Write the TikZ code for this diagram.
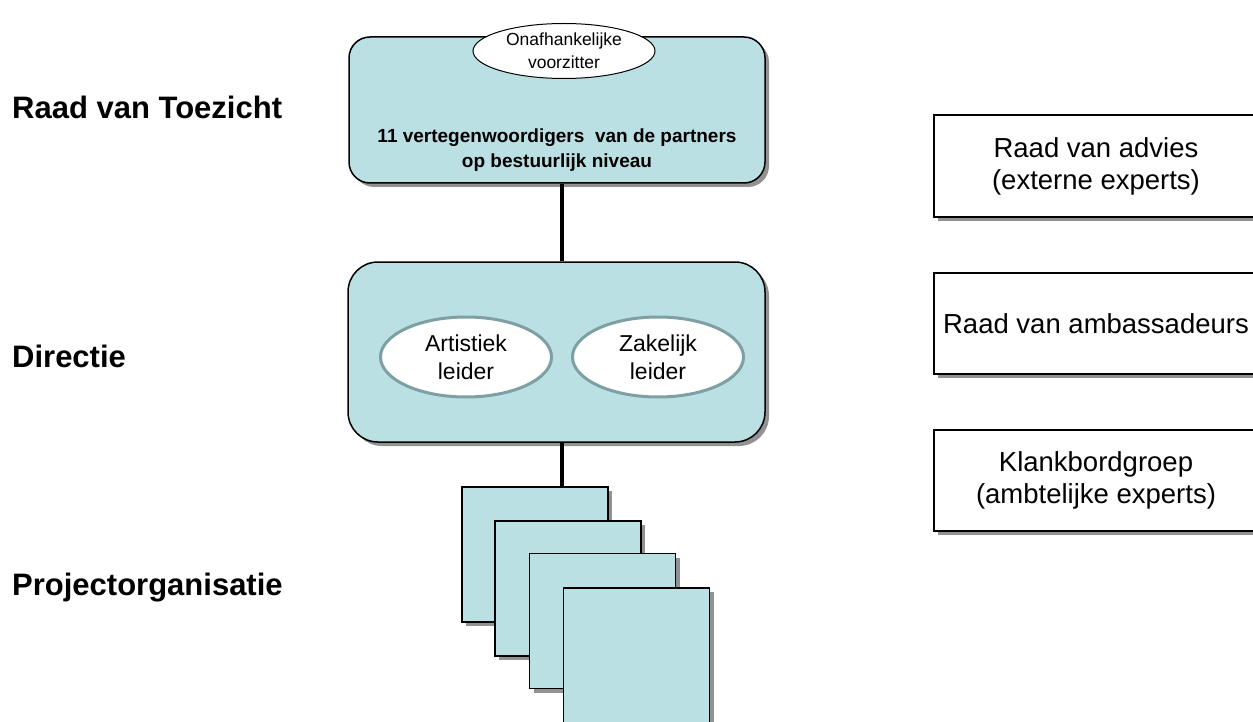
\documentclass[tikz,border=0pt]{standalone}
\usepackage{fontspec}
\setmainfont{Liberation Sans}
\usetikzlibrary{shapes.geometric,shadows}
\definecolor{tealfill}{RGB}{187,224,227}
\definecolor{ellborder}{RGB}{127,160,163}
\begin{document}
\begin{tikzpicture}[x=1pt,y=-1pt,
  shd/.style={drop shadow={shadow xshift=4pt,shadow yshift=-4pt,fill=black!50,opacity=0.85}},
  mainbox/.style={draw=black,line width=1.5pt,fill=tealfill,shd,inner sep=0pt},
  sqbox/.style={draw=black,line width=1.5pt,fill=tealfill,shd,inner sep=0pt,minimum width=146pt,minimum height=135pt},
  sidebox/.style={draw=black,line width=1.5pt,fill=white,shd,inner sep=0pt,minimum width=324pt,align=center,font=\fontsize{27.5}{32}\selectfont},
  leadell/.style={ellipse,draw=ellborder,line width=3pt,fill=white,inner sep=0pt,minimum width=171pt,minimum height=80pt},
  ltext/.style={align=center,font=\fontsize{23}{28}\selectfont,inner sep=0pt},
  lbl/.style={font=\bfseries\fontsize{31}{37}\selectfont,inner sep=0pt,anchor=base west},
  conn/.style={line width=3.5pt,black}]
\clip (0,0) rectangle (1253,722);
\fill[white] (0,0) rectangle (1253,722);

% Left labels
\node[lbl] (lrvt) at (12,119) {Raad van Toezicht};
\node[lbl] (ldir) at (12,367) {Directie};
\node[lbl] (lpro) at (12,595) {Projectorganisatie};

% Raad van Toezicht box
\node[mainbox,rounded corners=21pt,minimum width=416pt,minimum height=146pt] (rvt) at (557,110) {};
\node[align=center,inner sep=0pt,font=\bfseries\fontsize{19}{25}\selectfont] (rvttext) at (557,150) {11 vertegenwoordigers\ \ van de partners\\op bestuurlijk niveau};
\node[ellipse,draw=black,line width=1pt,fill=white,inner sep=0pt,minimum width=182pt,minimum height=55pt] (chair) at (564,51) {};
\node[align=center,inner sep=0pt,font=\fontsize{17.5}{23}\selectfont] (chairtext) at (chair.center) {Onafhankelijke\\voorzitter};

% Directie box
\node[mainbox,rounded corners=30pt,minimum width=417pt,minimum height=180pt] (dir) at (556.5,352) {};
\node[leadell] (art) at (466,357) {};
\node[ltext] (arttext) at (art.center) {Artistiek\\leider};
\node[leadell] (zak) at (658,357) {};
\node[ltext] (zaktext) at (zak.center) {Zakelijk\\leider};

% Connectors
\draw[conn] ([xshift=5pt]rvt.south) -- ([xshift=5pt]rvt.south |- dir.north);
\draw[conn] ([xshift=5.5pt]dir.south) coordinate (d1) -- (d1 |- 0,487) coordinate (d2);

% Project stack
\node[sqbox] (sq1) at (535,554.5) {};
\node[sqbox] (sq2) at (568,588.5) {};
\node[sqbox] (sq3) at (602.5,621) {};
\node[sqbox] (sq4) at (636.5,655.5) {};

% Right boxes
\node[sidebox,minimum height=102pt] (rb1) at (1096,166) {Raad van advies\\(externe experts)};
\node[sidebox,minimum height=101pt] (rb2) at (1096,323.5) {Raad van ambassadeurs};
\node[sidebox,minimum height=101pt] (rb3) at (1096,480.5) {Klankbordgroep\\(ambtelijke experts)};
\end{tikzpicture}
\end{document}
